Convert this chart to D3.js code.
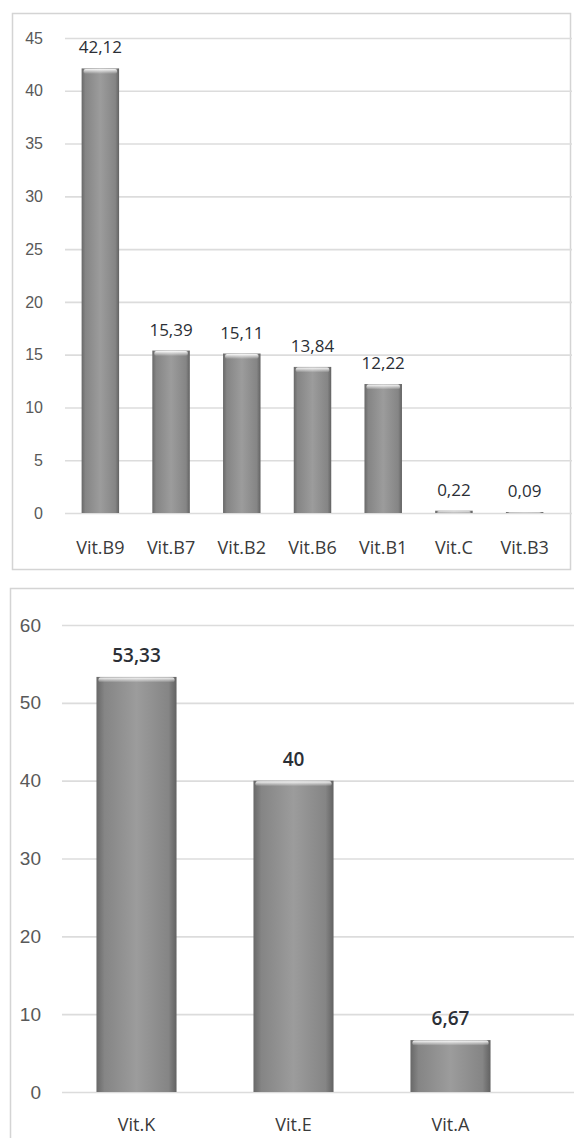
<!DOCTYPE html>
<html>
<head>
<meta charset="utf-8">
<script src="https://cdn.jsdelivr.net/npm/d3@7"></script>
<style>
  body { margin: 0; background: #fff; }
  svg { display: block; font-family: "Open Sans", sans-serif; }
  .grid line { stroke: #dcdcdc; stroke-width: 1.6; }
  .grid path { display: none; }
  .grid text { fill: #595959; }
</style>
</head>
<body>
<div id="chart"></div>
<script>
// vitamins, first panel
var topCategories = ["Vit.B9", "Vit.B7", "Vit.B2", "Vit.B6", "Vit.B1", "Vit.C", "Vit.B3"];
var topValues = [42.12, 15.39, 15.11, 13.84, 12.22, 0.22, 0.09];
var topTicks = [0, 5, 10, 15, 20, 25, 30, 35, 40, 45];

// vitamins, second panel
var bottomCategories = ["Vit.K", "Vit.E", "Vit.A"];
var bottomValues = [53.33, 40, 6.67];
var bottomTicks = [0, 10, 20, 30, 40, 50, 60];

var W = 574, H = 1138;
var fmt = d3.formatLocale({decimal: ",", thousands: ".", grouping: [3], currency: ["", ""]}).format(".2~f");

var svg = d3.select("#chart").append("svg")
    .attr("width", W)
    .attr("height", H);

var defs = svg.append("defs");
var barGrad = defs.append("linearGradient").attr("id", "barGrad")
    .attr("x1", 0).attr("x2", 1).attr("y1", 0).attr("y2", 0);
[[0, "#686868"], [0.1, "#858585"], [0.5, "#9c9c9c"], [0.9, "#858585"], [1, "#626262"]].forEach(function(s) {
  barGrad.append("stop").attr("offset", s[0]).attr("stop-color", s[1]);
});
var capGrad = defs.append("linearGradient").attr("id", "capGrad")
    .attr("x1", 0).attr("x2", 0).attr("y1", 0).attr("y2", 1);
capGrad.append("stop").attr("offset", 0).attr("stop-color", "#fff").attr("stop-opacity", 0.95);
capGrad.append("stop").attr("offset", 1).attr("stop-color", "#fff").attr("stop-opacity", 0);

function drawChart(o) {
  // frame
  svg.append("rect")
      .attr("x", o.frame[0]).attr("y", o.frame[1])
      .attr("width", o.frame[2]).attr("height", o.frame[3])
      .attr("fill", "none").attr("stroke", "#d4d4d4").attr("stroke-width", 1.5);

  var x = d3.scaleBand().domain(o.categories).range(o.xRange)
      .paddingInner(o.pad).paddingOuter(o.pad / 2);
  var y = d3.scaleLinear().domain([0, d3.max(o.ticks)]).range(o.yRange);

  var g = svg.append("g");

  g.append("g")
      .attr("class", "grid")
      .attr("transform", "translate(" + o.gridX[0] + ",0)")
      .call(d3.axisLeft(y).tickValues(o.ticks).tickSize(-(o.gridX[1] - o.gridX[0])).tickPadding(o.tickPad))
      .call(function(a) { a.selectAll("text").style("font-size", o.tickFont + "px"); });

  var bars = g.selectAll(".bar").data(o.values).enter().append("g").attr("class", "bar");

  bars.append("rect")
      .attr("x", function(d, i) { return x(o.categories[i]); })
      .attr("y", function(d) { return y(d); })
      .attr("width", x.bandwidth())
      .attr("height", function(d) { return y(0) - y(d); })
      .attr("fill", "url(#barGrad)");

  // light bevel on top of each bar
  bars.append("rect")
      .attr("x", function(d, i) { return x(o.categories[i]) + 2; })
      .attr("y", function(d) { return y(d) + 0.5; })
      .attr("width", x.bandwidth() - 4)
      .attr("height", function(d) { return Math.min(5, y(0) - y(d)); })
      .attr("rx", 2)
      .attr("fill", "url(#capGrad)");

  bars.append("text")
      .attr("x", function(d, i) { return x(o.categories[i]) + x.bandwidth() / 2; })
      .attr("y", function(d) { return y(d) - 15; })
      .attr("text-anchor", "middle")
      .style("font-size", o.valueFont + "px")
      .style("font-weight", o.valueWeight)
      .attr("fill", "#2b2f36")
      .text(function(d) { return fmt(d); });

  g.selectAll(".cat").data(o.categories).enter().append("text")
      .attr("class", "cat")
      .attr("x", function(d) { return x(d) + x.bandwidth() / 2; })
      .attr("y", o.catY)
      .attr("text-anchor", "middle")
      .style("font-size", o.catFont + "px")
      .attr("fill", "#3a3a3a")
      .text(function(d) { return d; });
}

drawChart({
  categories: topCategories, values: topValues, ticks: topTicks,
  frame: [12.5, 13.5, 558, 556],
  xRange: [65, 560], pad: 0.47,
  yRange: [513, 38],
  gridX: [65, 572], tickPad: 22, tickFont: 16,
  valueFont: 17, valueWeight: 400,
  catY: 554, catFont: 18
});

drawChart({
  categories: bottomCategories, values: bottomValues, ticks: bottomTicks,
  frame: [10.5, 588.5, 580, 600],
  xRange: [58, 529], pad: 0.49,
  yRange: [1092, 625],
  gridX: [62, 574], tickPad: 21, tickFont: 19,
  valueFont: 19, valueWeight: 600,
  catY: 1131, catFont: 18
});
</script>
</body>
</html>
